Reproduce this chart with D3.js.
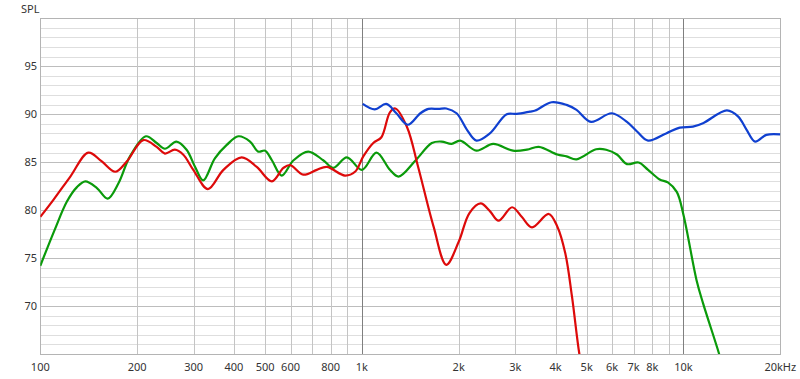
<!DOCTYPE html>
<html>
<head>
<meta charset="utf-8">
<script src="https://cdn.jsdelivr.net/npm/d3@7"></script>
<style>
  body { margin: 0; background: #fff; }
  text { font-family: "Noto Sans", "Open Sans", sans-serif; font-size: 11px; fill: #333; }
</style>
</head>
<body>
<div id="chart"></div>
<script>
// red curve (freq Hz, SPL dB)
const redFreq = [100, 110, 124, 141, 155, 171, 186, 209, 230, 244, 262, 278, 299, 332, 371, 423, 471, 525, 570, 598, 657, 724, 778, 886, 952, 1010, 1085, 1150, 1222, 1270, 1380, 1496, 1670, 1830, 2000, 2160, 2340, 2500, 2660, 2930, 3140, 3380, 3810, 4050, 4290, 4500, 4740, 4900];
const redSpl  = [79.3, 81.1, 83.5, 86.0, 85.1, 84.0, 85.1, 87.3, 86.6, 85.9, 86.3, 85.8, 84.2, 82.2, 84.2, 85.5, 84.5, 83.0, 84.4, 84.7, 83.7, 84.2, 84.5, 83.6, 84.0, 85.6, 87.0, 87.6, 90.2, 90.6, 88.7, 84.5, 78.3, 74.3, 76.7, 79.7, 80.7, 79.9, 78.9, 80.3, 79.3, 78.2, 79.6, 78.3, 75.5, 71.0, 65.1, 62.5];

// green curve
const greenFreq = [100, 111, 121, 130, 138, 150, 162, 175, 190, 213, 230, 244, 265, 285, 303, 321, 349, 380, 413, 449, 476, 500, 525, 563, 613, 681, 758, 815, 898, 1000, 1110, 1222, 1300, 1470, 1650, 1770, 1900, 2020, 2270, 2560, 2950, 3260, 3550, 4050, 4330, 4650, 5350, 5750, 6210, 6670, 7250, 7760, 8430, 8940, 9530, 10000, 10980, 11500, 12880, 13400];
const greenSpl  = [74.2, 78.0, 80.9, 82.4, 83.0, 82.3, 81.2, 82.8, 85.6, 87.7, 87.0, 86.4, 87.15, 86.3, 84.5, 83.1, 85.4, 86.8, 87.7, 87.15, 86.1, 86.2, 85.2, 83.6, 85.2, 86.1, 85.2, 84.4, 85.5, 84.2, 86.0, 84.2, 83.5, 85.2, 87.0, 87.15, 86.9, 87.25, 86.2, 86.9, 86.2, 86.3, 86.6, 85.8, 85.6, 85.3, 86.35, 86.3, 85.8, 84.8, 84.96, 84.2, 83.2, 82.9, 81.9, 79.5, 72.7, 70.3, 65.1, 63.0];

// blue curve
const blueFreq = [1006, 1096, 1190, 1280, 1390, 1520, 1610, 1730, 1830, 1970, 2120, 2270, 2500, 2820, 3030, 3330, 3460, 3890, 4330, 4650, 5160, 5980, 6670, 7170, 7760, 8830, 9740, 10700, 11500, 13650, 14800, 15700, 16700, 18100, 20000];
const blueSpl  = [91.07, 90.5, 91.07, 90.1, 88.9, 90.1, 90.55, 90.55, 90.6, 90.1, 88.4, 87.25, 88.0, 90.0, 90.03, 90.27, 90.38, 91.25, 90.97, 90.45, 89.2, 90.1, 89.2, 88.2, 87.25, 88.0, 88.6, 88.7, 89.06, 90.4, 89.75, 88.4, 87.15, 87.85, 87.9];

const xTicks = [100, 200, 300, 400, 500, 600, 800, 1000, 2000, 3000, 4000, 5000, 6000, 7000, 8000, 10000, 20000];
const xTickLabels = ["100", "200", "300", "400", "500", "600", "800", "1k", "2k", "3k", "4k", "5k", "6k", "7k", "8k", "10k", "20kHz"];
const xGrid = [100, 200, 300, 400, 500, 600, 700, 800, 900, 1000, 2000, 3000, 4000, 5000, 6000, 7000, 8000, 9000, 10000, 20000];
const yTicks = [70, 75, 80, 85, 90, 95];

const width = 800, height = 379;
const margin = {top: 18.3, right: 20, bottom: 25, left: 40.3};

const svg = d3.select("#chart").append("svg")
  .attr("width", width)
  .attr("height", height);

const x = d3.scaleLog().domain([100, 20000]).range([margin.left, 780.3]);
const y = d3.scaleLinear().domain([65, 100]).range([354, margin.top]);

// horizontal grid, 1 dB minor
const minor = d3.range(66, 100);
svg.append("g").selectAll("line")
  .data(minor.filter(d => d % 5 !== 0))
  .join("line")
    .attr("x1", x(100)).attr("x2", x(20000))
    .attr("y1", d => Math.round(y(d)) + 0.5).attr("y2", d => Math.round(y(d)) + 0.5)
    .attr("stroke", "#dedede").attr("stroke-width", 1);

svg.append("g").selectAll("line")
  .data(yTicks)
  .join("line")
    .attr("x1", x(100)).attr("x2", x(20000))
    .attr("y1", d => Math.round(y(d)) + 0.5).attr("y2", d => Math.round(y(d)) + 0.5)
    .attr("stroke", "#bdbdbd").attr("stroke-width", 1);

// vertical grid
svg.append("g").selectAll("line")
  .data(xGrid)
  .join("line")
    .attr("x1", d => Math.round(x(d)) + 0.5).attr("x2", d => Math.round(x(d)) + 0.5)
    .attr("y1", y(100)).attr("y2", y(65))
    .attr("stroke", d => (d === 1000 || d === 10000) ? "#7f7f7f" : "#c4c4c4")
    .attr("stroke-width", 1);

// frame
svg.append("rect")
  .attr("x", Math.round(x(100)) + 0.5).attr("y", Math.round(y(100)) + 0.5)
  .attr("width", Math.round(x(20000)) - Math.round(x(100)))
  .attr("height", Math.round(y(65)) - Math.round(y(100)))
  .attr("fill", "none").attr("stroke", "#b4b4b4");

// axis labels
svg.append("g").selectAll("text")
  .data(xTicks)
  .join("text")
    .attr("x", d => x(d))
    .attr("y", 371)
    .attr("text-anchor", "middle")
    .text((d, i) => xTickLabels[i]);

svg.append("g").selectAll("text")
  .data(yTicks)
  .join("text")
    .attr("x", 37)
    .attr("y", d => y(d) + 4)
    .attr("text-anchor", "end")
    .text(d => d);

svg.append("text").attr("x", 21).attr("y", 12.5).text("SPL");

// curves
svg.append("clipPath").attr("id", "plot")
  .append("rect")
    .attr("x", x(100)).attr("y", y(100))
    .attr("width", x(20000) - x(100)).attr("height", y(65) - y(100));

const line = d3.line()
  .x(d => x(d[0]))
  .y(d => y(d[1]))
  .curve(d3.curveCatmullRom.alpha(0.5));

const series = [
  {f: greenFreq, v: greenSpl, color: "#0a9a0a"},
  {f: redFreq, v: redSpl, color: "#dd0a0a"},
  {f: blueFreq, v: blueSpl, color: "#1040d0"}
];

const curves = svg.append("g").attr("clip-path", "url(#plot)");
series.forEach(s => {
  curves.append("path")
    .datum(s.f.map((f, i) => [f, s.v[i]]))
    .attr("fill", "none")
    .attr("stroke", s.color)
    .attr("stroke-width", 2.2)
    .attr("stroke-linejoin", "round")
    .attr("d", line);
});
</script>
</body>
</html>
